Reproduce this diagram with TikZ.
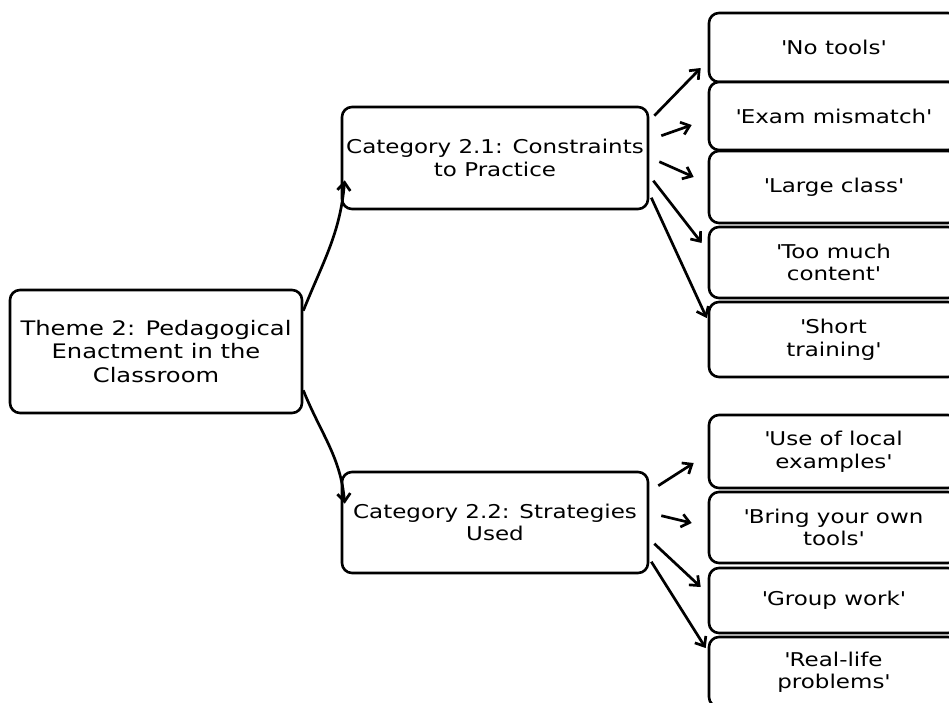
\documentclass[tikz,border=0pt]{standalone}
\usepackage{fontspec}
\setmainfont{DejaVu Sans}[FakeStretch=1.21]
\usetikzlibrary{arrows.meta,calc}
\newcommand\sq{\textquotesingle}
\tikzset{
  box/.style={draw=black, line width=2.6pt, rounded corners=10pt, fill=white,
    align=center, inner sep=2pt, font=\fontsize{19}{22.5}\selectfont},
  leaf/.style={box, minimum width=249pt},
  arr/.style={line width=2.7pt, -{Straight Barb[length=8pt,width=13pt]}}
}
\begin{document}
\begin{tikzpicture}[x=1pt,y=-1pt]
\useasboundingbox (0,0) rectangle (949,702);
\fill[white] (0,0) rectangle (949,702);
\clip (0,0) rectangle (949,702);
% main nodes
\node[box, minimum width=292pt, minimum height=123pt, font=\fontsize{20}{23.5}\selectfont] (t) at (156,351.5)
  {Theme 2: Pedagogical\\Enactment in the\\Classroom};
\node[box, minimum width=306pt, minimum height=102pt] (c1) at (495,158)
  {Category 2.1: Constraints\\to Practice};
\node[box, minimum width=306pt, minimum height=101pt] (c2) at (495,522.5)
  {Category 2.2: Strategies\\Used};
% leaves
\node[leaf, minimum height=69pt] (n1) at (833.5,47.5) {\sq No tools\sq};
\node[leaf, minimum height=68pt] (n2) at (833.5,116) {\sq Exam mismatch\sq};
\node[leaf, minimum height=72pt] (n3) at (833.5,187) {\sq Large class\sq};
\node[leaf, minimum height=71pt] (n4) at (833.5,262.5) {\sq Too much\\content\sq};
\node[leaf, minimum height=75pt] (n5) at (833.5,339.5) {\sq Short\\training\sq};
\node[leaf, minimum height=73pt] (m1) at (833.5,451.5) {\sq Use of local\\examples\sq};
\node[leaf, minimum height=71pt] (m2) at (833.5,527.5) {\sq Bring your own\\tools\sq};
\node[leaf, minimum height=65pt] (m3) at (833.5,600.5) {\sq Group work\sq};
\node[leaf, minimum height=70pt] (m4) at (833.5,672) {\sq Real-life\\problems\sq};
% theme -> categories
\draw[arr] ($(t.north east)+(0,22)$) to[out=68, in=-95] ($(c1.south west)+(4,-30)$);
\draw[arr] ($(t.south east)+(0,-24)$) to[out=-68, in=95] ($(c2.north west)+(4,33)$);
% category 2.1 -> leaves
\draw[arr] ($(c1.north east)+(5,10)$) -- ($(n1.west)+(-7,20.5)$);
\draw[arr] ($(c1.north east)+(12,30)$) -- ($(n2.west)+(-16,9)$);
\draw[arr] ($(c1.north east)+(10,56)$) -- ($(n3.west)+(-14,-10)$);
\draw[arr] ($(c1.north east)+(4,75)$) -- ($(n4.west)+(-6,-19.5)$);
\draw[arr] ($(c1.north east)+(2,92)$) -- ($(n5.west)+(-1,-21.5)$);
% category 2.2 -> leaves
\draw[arr] ($(c2.north east)+(9,15)$) -- ($(m1.west)+(-14,11.5)$);
\draw[arr] ($(c2.north east)+(12,45)$) -- ($(m2.west)+(-16,-4.5)$);
\draw[arr] ($(c2.north east)+(5,73)$) -- ($(m3.west)+(-7,-13.5)$);
\draw[arr] ($(c2.north east)+(2,91)$) -- ($(m4.west)+(-2,-24)$);
\end{tikzpicture}
\end{document}
